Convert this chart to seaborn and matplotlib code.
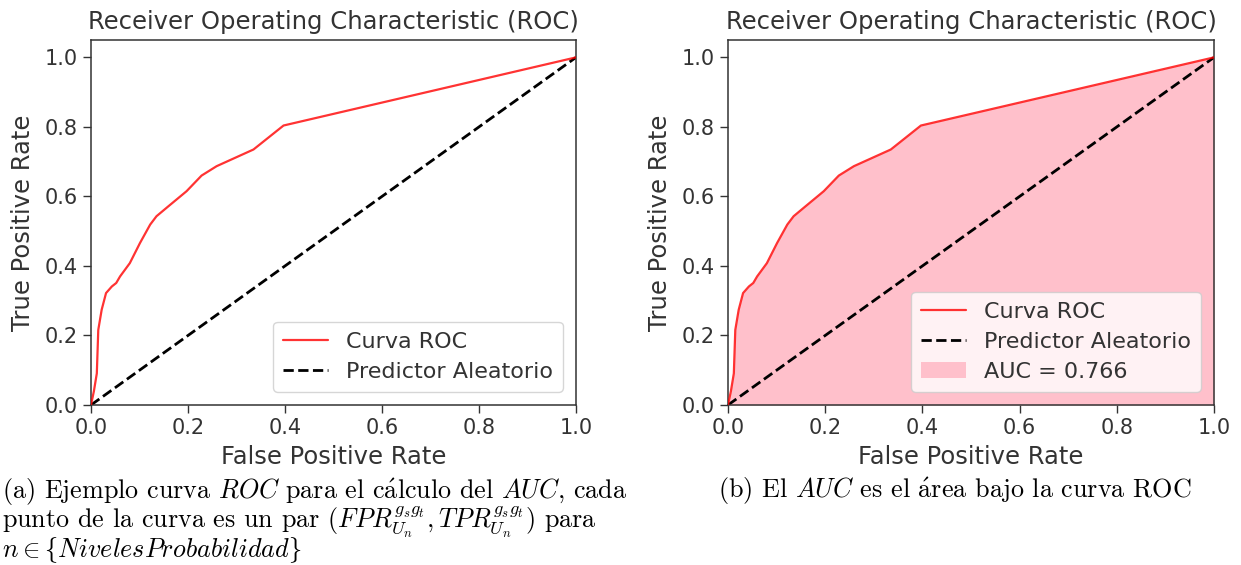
import numpy as np
import pandas as pd
import matplotlib
matplotlib.use("Agg")
import matplotlib.pyplot as plt
import seaborn as sns

# ---- data ----
fpr = [0.0, 0.006, 0.012, 0.015, 0.022, 0.031, 0.043, 0.052, 0.060, 0.080, 0.101,
       0.122, 0.135, 0.159, 0.197, 0.228, 0.259, 0.335, 0.397, 1.0]
tpr = [0.0, 0.04, 0.091, 0.216, 0.274, 0.322, 0.341, 0.351, 0.370, 0.408, 0.466,
       0.519, 0.543, 0.571, 0.615, 0.660, 0.687, 0.735, 0.804, 1.0]
diag = [0.0, 1.0]
auc_label = "AUC = 0.766"
title = "Receiver Operating Characteristic (ROC)"
xlabel = "False Positive Rate"
ylabel = "True Positive Rate"
ticks = [0.0, 0.2, 0.4, 0.6, 0.8, 1.0]

sns.set_style("ticks")
plt.rcParams.update({
    "font.family": ["DejaVu Sans"],
    "text.color": ".2",
    "axes.labelcolor": ".2",
    "xtick.color": ".2",
    "ytick.color": ".2",
    "axes.edgecolor": ".2",
    "xtick.direction": "out",
    "ytick.direction": "out",
    "xtick.major.size": 6,
    "ytick.major.size": 6,
    "mathtext.fontset": "cm",
})

roc = pd.DataFrame({"fpr": fpr, "tpr": tpr})
rnd = pd.DataFrame({"x": diag, "y": diag})

fig = plt.figure(figsize=(12.41, 5.65), dpi=100)
ax1 = fig.add_axes([91/1241, 1-405/565, 485/1241, 365/565])
ax2 = fig.add_axes([728/1241, 1-405/565, 486/1241, 365/565])

for i, ax in enumerate([ax1, ax2]):
    if i == 1:
        ax.fill_between(fpr, tpr, color="pink", label=auc_label, lw=0, zorder=1)
    sns.lineplot(data=roc, x="fpr", y="tpr", sort=False, ax=ax, color="red",
                 alpha=0.8, lw=1.6, label="Curva ROC", zorder=3)
    sns.lineplot(data=rnd, x="x", y="y", sort=False, ax=ax, color="black",
                 lw=2, ls="--", label="Predictor Aleatorio", zorder=2)
    ax.set_xlim(0, 1.0)
    ax.set_ylim(0, 1.05)
    ax.set_xticks(ticks)
    ax.set_yticks(ticks)
    ax.tick_params(labelsize=15, width=1)
    ax.set_xlabel(xlabel, fontsize=17.5, labelpad=5)
    ax.set_ylabel(ylabel, fontsize=17.5, labelpad=7)
    ax.set_title(title, fontsize=17.5, pad=8)
    for s in ax.spines.values():
        s.set_linewidth(1.1)
    h, l = ax.get_legend_handles_labels()
    if i == 1:
        order = [l.index("Curva ROC"), l.index("Predictor Aleatorio"), l.index(auc_label)]
        h = [h[k] for k in order]
        l = [l[k] for k in order]
    ax.legend(h, l, loc="lower right", fontsize=16, frameon=True,
              handlelength=2.0, borderpad=0.45, labelspacing=0.45,
              borderaxespad=0.6)

cap_font = ["cmr10", "DejaVu Serif"]
acute_a = r"$\mathrm{\acute{a}}$"
caption_a = "\n".join([
    r"(a) Ejemplo curva $ROC$ para el c" + acute_a + r"lculo del $AUC$, cada",
    r"punto de la curva es un par $(FPR_{U_n}^{g_s g_t}, TPR_{U_n}^{g_s g_t})$ para",
    r"$n \in \lbrace NivelesProbabilidad\rbrace$",
])
caption_b = r"(b) El $AUC$ es el " + acute_a + r"rea bajo la curva ROC"
fig.text(2/1241, 1-477/565, caption_a, fontsize=18.8, family=cap_font,
         color="black", va="top", ha="left", linespacing=0.82)
fig.text(718/1241, 1-491/565, caption_b, fontsize=18.8, family=cap_font,
         color="black", va="center", ha="left")

fig.savefig("out.png", dpi=100)
